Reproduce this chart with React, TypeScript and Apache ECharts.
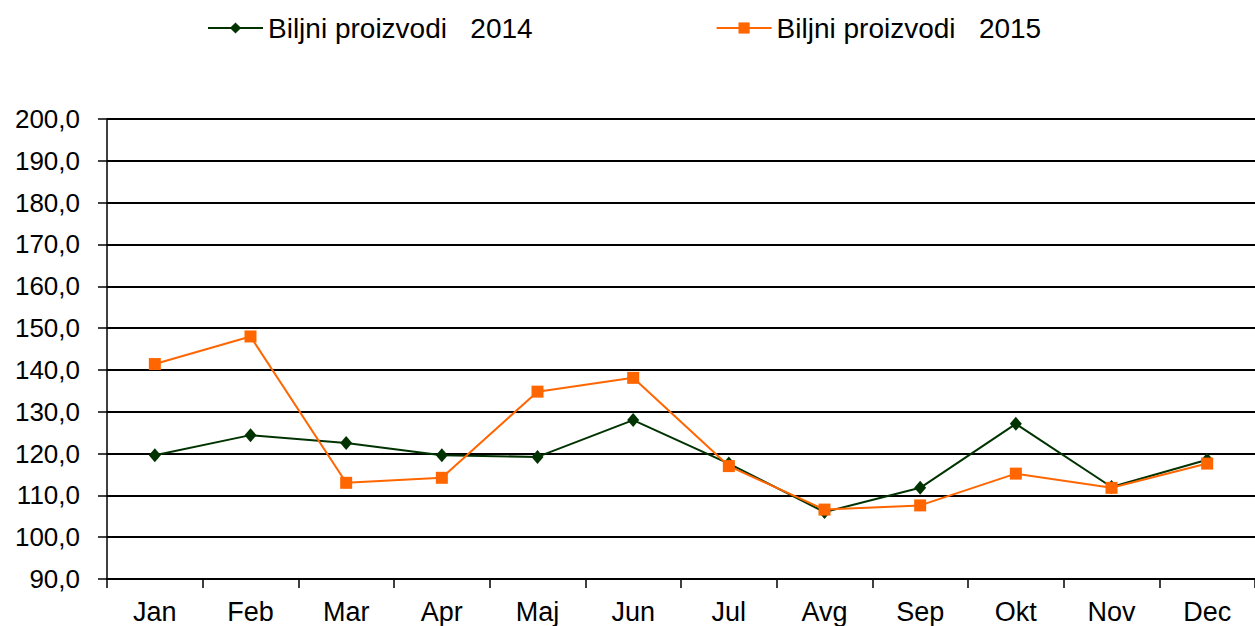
import React, { useEffect, useRef } from "react";
import * as echarts from "echarts";

const categories = ["Jan", "Feb", "Mar", "Apr", "Maj", "Jun", "Jul", "Avg", "Sep", "Okt", "Nov", "Dec"];
const values2014 = [119.6, 124.4, 122.5, 119.6, 119.2, 128.0, 117.6, 106.0, 111.8, 127.1, 112.0, 118.5];
const values2015 = [141.4, 148.0, 113.0, 114.2, 134.8, 138.1, 117.0, 106.6, 107.6, 115.2, 111.8, 117.6];
const seriesNames = ["Biljni proizvodi   2014", "Biljni proizvodi   2015"];

const FONT = "Liberation Sans, Arial, sans-serif";

export default function App() {
  const ref = useRef<HTMLDivElement>(null);
  useEffect(() => {
    if (!ref.current) return;
    const chart = echarts.init(ref.current, null, { renderer: "svg" });
    chart.setOption({
      animation: false,
      backgroundColor: "#ffffff",
      legend: {
        left: 202,
        top: 9,
        itemWidth: 55,
        itemHeight: 14,
        itemGap: 183,
        textStyle: { fontFamily: FONT, fontSize: 28, color: "#000" },
        data: seriesNames,
      },
      grid: { left: 107, top: 119, bottom: 47, right: -10, containLabel: false },
      xAxis: {
        type: "category",
        data: categories,
        boundaryGap: true,
        axisLine: { lineStyle: { color: "#000", width: 2 } },
        axisTick: { show: true, length: 9, inside: false, lineStyle: { color: "#000", width: 1.5 } },
        axisLabel: { fontFamily: FONT, fontSize: 27, color: "#000", margin: 19, interval: 0 },
        splitLine: { show: false },
      },
      yAxis: {
        type: "value",
        min: 90,
        max: 200,
        interval: 10,
        axisLine: { show: true, lineStyle: { color: "#000", width: 1.5 } },
        axisTick: { show: true, length: 9, lineStyle: { color: "#000", width: 1.5 } },
        axisLabel: {
          fontFamily: FONT,
          fontSize: 26,
          color: "#000",
          margin: 27,
          formatter: (v: number) => v.toFixed(1).replace(".", ","),
        },
        splitLine: { show: true, lineStyle: { color: "#000", width: 2 } },
      },
      series: [
        {
          name: seriesNames[0],
          type: "line",
          data: values2014,
          symbol: "diamond",
          symbolSize: [12, 14],
          itemStyle: { color: "#003300" },
          lineStyle: { color: "#003300", width: 2 },
          z: 2,
        },
        {
          name: seriesNames[1],
          type: "line",
          data: values2015,
          symbol: "rect",
          symbolSize: 12,
          itemStyle: { color: "#ff6600" },
          lineStyle: { color: "#ff6600", width: 2 },
          z: 3,
        },
      ],
    });
    return () => chart.dispose();
  }, []);
  return (
    <div
      ref={ref}
      style={{ position: "absolute", left: 0, top: 0, width: 1255, height: 626, overflow: "hidden" }}
    />
  );
}
